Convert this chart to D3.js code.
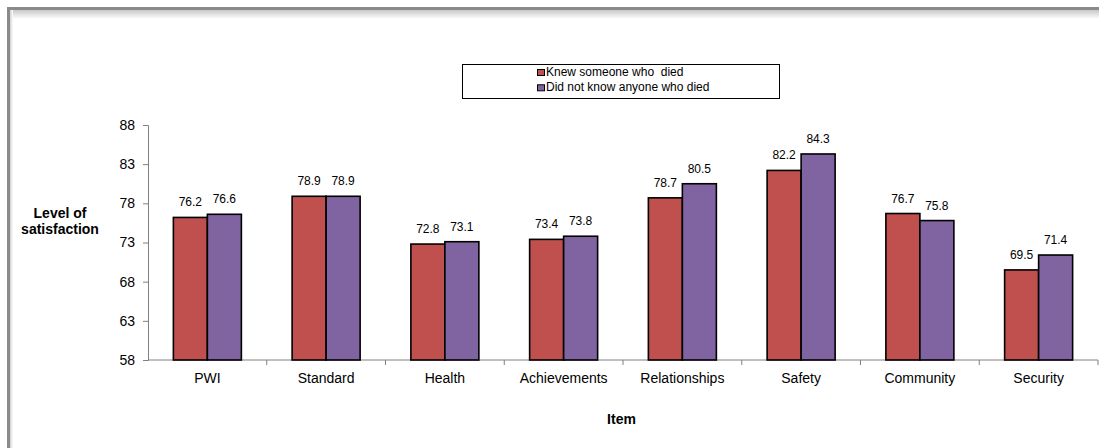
<!DOCTYPE html>
<html><head><meta charset="utf-8">
<script src="https://cdn.jsdelivr.net/npm/d3@7"></script>
<style>body{margin:0;background:#fff;}svg{display:block;font-family:"Liberation Sans",Arial,sans-serif;}</style>
</head><body><svg id="c" width="1099" height="448"></svg>
<script>
const categories = ["PWI","Standard","Health","Achievements","Relationships","Safety","Community","Security"];
const knewValues = [76.2,78.9,72.8,73.4,78.7,82.2,76.7,69.5];
const didNotKnowValues = [76.6,78.9,73.1,73.8,80.5,84.3,75.8,71.4];
const seriesNames = ["Knew someone who  died","Did not know anyone who died"];
const seriesColors = ["#C0504D","#8064A2"];
const yTicks = [58,63,68,73,78,83,88];

const svg = d3.select("#c");
const defs = svg.append("defs");
const gTop = defs.append("linearGradient").attr("id","gt").attr("x1",0).attr("y1",0).attr("x2",0).attr("y2",1);
gTop.append("stop").attr("offset",0).attr("stop-color","#c8c8c8");
gTop.append("stop").attr("offset",1).attr("stop-color","#ffffff");
const gLeft = defs.append("linearGradient").attr("id","gl").attr("x1",0).attr("y1",0).attr("x2",1).attr("y2",0);
gLeft.append("stop").attr("offset",0).attr("stop-color","#d0d0d0");
gLeft.append("stop").attr("offset",1).attr("stop-color","#ffffff");

// frame
svg.append("rect").attr("x",10).attr("y",10).attr("width",1089).attr("height",9).attr("fill","url(#gt)");
svg.append("rect").attr("x",10).attr("y",10).attr("width",3).attr("height",438).attr("fill","url(#gl)");
svg.append("rect").attr("x",7).attr("y",7).attr("width",1092).attr("height",3).attr("fill","#8a8a8a");
svg.append("rect").attr("x",7).attr("y",7).attr("width",3).attr("height",441).attr("fill","#8a8a8a");

const x = d3.scaleBand().domain(categories).range([148,1098]);
const y = d3.scaleLinear().domain([58,88]).range([360,125]);
const barW = 34;

// y axis
const yAxis = svg.append("g").attr("transform","translate(148,0)")
  .call(d3.axisLeft(y).tickValues(yTicks).tickSize(5).tickPadding(8));
yAxis.select(".domain").attr("stroke","#808080");
yAxis.selectAll(".tick line").attr("stroke","#808080");
yAxis.selectAll("text").attr("font-size",14).attr("fill","#000").attr("font-family","Liberation Sans, Arial, sans-serif");

// x axis line & ticks at boundaries
const xAxis = svg.append("g").attr("transform","translate(0,360)");
xAxis.append("line").attr("x1",148).attr("x2",1098).attr("stroke","#808080");
const bounds = categories.map(c=>x(c)).concat([x(categories[categories.length-1])+x.bandwidth()]);
xAxis.selectAll("line.t").data(bounds.slice(1)).join("line").attr("class","t")
  .attr("x1",d=>d).attr("x2",d=>d).attr("y1",0).attr("y2",5).attr("stroke","#808080");
xAxis.selectAll("text").data(categories).join("text")
  .attr("x",d=>x(d)+x.bandwidth()/2).attr("y",23).attr("text-anchor","middle")
  .attr("font-size",14).attr("fill","#000").text(d=>d);

// bars
const series = [knewValues, didNotKnowValues];
series.forEach((vals,si)=>{
  const g = svg.append("g");
  g.selectAll("rect").data(categories).join("rect")
    .attr("x",(d)=>x(d)+x.bandwidth()/2 - barW + si*barW)
    .attr("y",(d,i)=>y(vals[i]))
    .attr("width",barW)
    .attr("height",(d,i)=>y(58)-y(vals[i]))
    .attr("fill",seriesColors[si]).attr("stroke","#000").attr("stroke-width",1.6);
  g.selectAll("text").data(categories).join("text")
    .attr("x",(d)=>x(d)+x.bandwidth()/2 - barW/2 + si*barW)
    .attr("y",(d,i)=>y(vals[i])-11)
    .attr("text-anchor","middle").attr("font-size",12).attr("fill","#000")
    .text((d,i)=>vals[i].toFixed(1));
});

// legend
const lg = svg.append("g");
lg.append("rect").attr("x",462.5).attr("y",64.5).attr("width",317).attr("height",34).attr("fill","#fff").attr("stroke","#000").attr("stroke-width",1);
seriesNames.forEach((n,i)=>{
  lg.append("rect").attr("x",537.5).attr("y",69.5+i*15.3).attr("width",7).attr("height",6)
    .attr("fill",seriesColors[i]).attr("stroke","#000").attr("stroke-width",1);
  lg.append("text").attr("x",546).attr("y",76+i*15.3).attr("font-size",12).attr("fill","#000")
    .style("white-space","pre").text(n);
});

// axis titles
const yt = svg.append("text").attr("text-anchor","middle").attr("font-size",14).attr("font-weight","bold").attr("fill","#000");
yt.append("tspan").attr("x",60).attr("y",218).text("Level of");
yt.append("tspan").attr("x",60).attr("y",234).text("satisfaction");
svg.append("text").attr("x",621.5).attr("y",424).attr("text-anchor","middle").attr("font-size",14).attr("font-weight","bold").attr("fill","#000").text("Item");
</script></body></html>
